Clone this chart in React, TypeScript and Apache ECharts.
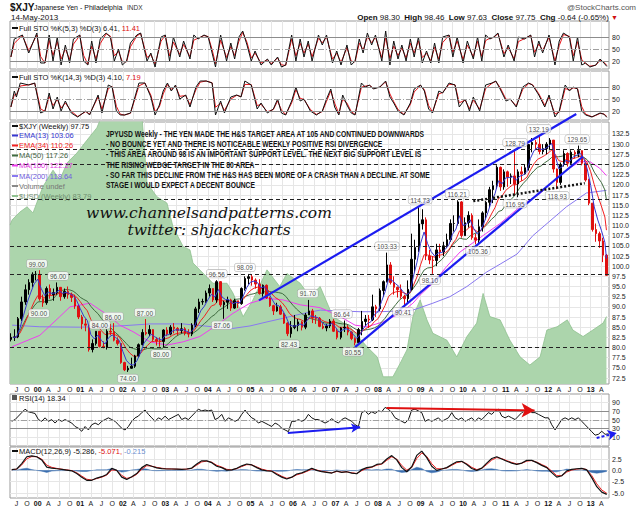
import React, { useEffect, useRef } from "react";
import * as echarts from "echarts";

// ---------------- DATA ----------------
const X_MIN = 1999.349;
const X_MAX = 2013.43;

// monthly price bars, May 1999 .. May 2013
const priceStart = 1999 + 4 / 12;
const lastDate = 2013.37;
const firstOpen = 82.0;
const priceClose = [
  82.5, 82.6, 87.1, 91.2, 94.2, 96.0, 98.0, 98.0,
  92.0, 91.0, 94.5, 93.0, 93.5, 94.8, 92.5, 93.8, 93.0, 92.3, 90.2, 87.5,
  85.8, 85.5, 79.5, 81.0, 84.0, 80.3, 80.0, 84.0, 83.8, 81.8, 81.0, 76.3,
  74.5, 74.9, 75.4, 77.9, 80.7, 83.7, 83.4, 84.4, 82.0, 81.6, 81.5, 84.3,
  83.3, 85.0, 84.7, 84.2, 84.6, 83.5, 83.3, 85.5, 89.5, 91.2, 91.3, 93.4,
  94.5, 91.7, 96.2, 90.5, 91.1, 91.7, 89.7, 91.5, 90.8, 94.5, 97.0, 97.4,
  96.6, 95.6, 93.3, 95.3, 92.2, 90.3, 89.0, 90.0, 88.2, 86.0, 83.4, 84.9,
  85.4, 86.3, 85.0, 88.0, 89.0, 87.3, 87.2, 85.2, 84.8, 85.3, 86.5, 84.0,
  82.5, 84.8, 85.0, 83.8, 82.2, 81.2, 84.4, 86.4, 87.0, 86.8, 90.0, 89.5,
  94.0, 96.2, 100.3, 96.0, 94.8, 94.2, 92.6, 92.0, 94.3, 101.7, 104.6, 110.4,
  111.4, 102.5, 101.5, 101.4, 104.0, 103.5, 105.0, 106.5, 110.5, 110.5, 115.8, 107.5,
  110.7, 112.5, 107.0, 106.4, 109.7, 113.1, 115.7, 118.8, 119.8, 124.3, 119.5, 123.2,
  121.9, 122.2, 120.2, 123.2, 122.7, 124.2, 129.9, 130.4, 130.0, 128.2, 128.9, 130.0,
  131.0, 123.9, 120.6, 125.0, 127.7, 125.3, 128.0, 127.6, 128.4, 125.3, 121.2, 115.5,
  109.0, 108.0, 106.2, 102.7, 97.75,
];
const priceHigh = [
  83.5, 84.5, 87.5, 92.5, 95.5, 96.8, 98.5, 98.8,
  99.0, 93.0, 95.0, 95.5, 94.5, 96.0, 94.5, 94.5, 95.0, 93.5, 93.0, 90.5,
  88.0, 87.0, 85.5, 82.0, 84.0, 84.0, 81.5, 84.5, 85.8, 86.0, 82.5, 81.0,
  76.5, 75.5, 77.5, 78.2, 81.0, 84.5, 87.0, 85.5, 84.5, 82.5, 82.5, 84.5,
  85.0, 85.5, 86.0, 85.0, 86.0, 85.0, 84.5, 86.0, 90.0, 92.0, 92.0, 94.0,
  95.5, 94.5, 96.56, 96.3, 91.5, 92.5, 92.0, 92.0, 91.5, 94.8, 97.5, 98.09,
  98.0, 97.0, 96.8, 95.5, 95.5, 92.5, 90.5, 91.0, 90.5, 88.5, 86.2, 86.5,
  88.0, 87.0, 86.5, 88.5, 91.7, 89.5, 88.0, 87.5, 86.0, 85.8, 87.0, 87.0,
  84.5, 85.0, 86.64, 85.5, 84.0, 82.5, 84.8, 89.0, 88.0, 88.0, 93.0, 90.5,
  94.5, 96.5, 103.33, 101.0, 97.5, 95.0, 95.5, 93.0, 96.5, 108.0, 106.5, 114.73,
  114.0, 112.0, 104.0, 102.5, 105.5, 105.5, 106.0, 108.0, 111.5, 112.5, 116.21, 116.0,
  112.0, 113.5, 113.0, 108.0, 111.5, 113.5, 116.0, 119.5, 121.0, 124.8, 124.5, 123.8,
  123.5, 122.8, 128.79, 123.8, 124.5, 125.0, 130.0, 131.5, 131.0, 132.19, 130.0, 130.5,
  131.5, 131.0, 124.0, 125.5, 128.5, 128.0, 128.5, 128.5, 129.65, 128.5, 125.5, 121.5,
  115.5, 110.5, 108.5, 107.0, 103.0,
];
const priceLow = [
  81.5, 81.6, 82.3, 86.5, 90.5, 93.0, 94.8, 96.5,
  91.5, 90.0, 90.5, 92.0, 91.5, 93.0, 91.5, 92.0, 92.0, 91.2, 89.5, 87.0,
  84.5, 84.0, 79.0, 78.8, 80.5, 80.0, 79.8, 79.5, 83.0, 81.5, 80.5, 76.0,
  74.2, 74.0, 74.8, 75.0, 77.5, 80.5, 83.0, 82.8, 81.5, 80.5, 80.2, 80.0,
  82.8, 83.0, 83.5, 83.0, 83.5, 83.0, 82.5, 82.8, 85.0, 88.5, 90.5, 91.0,
  92.5, 91.2, 91.0, 90.0, 87.06, 89.5, 89.0, 89.5, 89.7, 90.5, 94.0, 95.5,
  95.2, 94.5, 93.0, 92.5, 92.0, 90.0, 88.0, 88.8, 88.0, 85.8, 82.8, 82.43,
  84.5, 84.0, 84.2, 84.5, 88.0, 86.0, 85.8, 85.0, 84.5, 84.0, 84.8, 83.8,
  82.0, 82.0, 83.8, 83.0, 81.8, 80.55, 81.0, 83.0, 85.3, 84.8, 86.5, 87.5,
  89.0, 92.5, 96.0, 95.5, 93.0, 92.3, 92.0, 90.41, 91.0, 94.0, 98.5, 103.5,
  109.0, 101.5, 100.5, 98.1, 100.0, 102.0, 102.5, 104.5, 106.0, 108.5, 110.0, 107.0,
  107.5, 109.5, 106.5, 105.36, 105.5, 108.5, 111.5, 114.5, 115.5, 119.0, 118.5, 118.8,
  119.5, 120.2, 117.5, 116.95, 121.0, 122.5, 123.5, 128.0, 128.5, 127.5, 127.5, 127.5,
  128.5, 123.0, 118.93, 120.0, 124.5, 124.5, 125.0, 126.5, 126.8, 124.8, 120.8, 115.0,
  108.5, 106.0, 104.5, 101.0, 97.63,
];

// $USD (weekly) underlay, read in main-axis units
const usdDates = [1999.35, 1999.4, 1999.58, 1999.75, 1999.89, 2000.12, 2000.36, 2000.52, 2000.69, 2000.92, 2001.16, 2001.39, 2001.55, 2001.75, 2001.95, 2002.2, 2002.45, 2002.57, 2002.8, 2003.04, 2003.18, 2003.42, 2003.58, 2003.65, 2003.81, 2004.12, 2004.45, 2004.59, 2004.83, 2005.06, 2005.39, 2005.69, 2005.86, 2006.17, 2006.4, 2006.64, 2006.94, 2007.34, 2007.74, 2007.98, 2008.12, 2008.35, 2008.52, 2008.68, 2008.82, 2008.99, 2009.15, 2009.29, 2009.62, 2009.85, 2010.09, 2010.32, 2010.47, 2010.63, 2010.87, 2011.1, 2011.34, 2011.57, 2011.81, 2011.97, 2012.21, 2012.45, 2012.58, 2012.82, 2013.05, 2013.29, 2013.37];
const usdValues = [110.1, 111.4, 113.3, 114.6, 113.1, 119.5, 123.6, 121.2, 125.4, 127.8, 131.0, 134.0, 138, 140, 139, 141, 137, 120.5, 117.1, 115.5, 109.7, 104.8, 104.0, 100.8, 99.1, 95.8, 95.8, 93.4, 87.6, 91.7, 99.1, 95.0, 98.2, 95.8, 92.5, 95.0, 87.6, 85.1, 80.2, 77.7, 72.8, 72.8, 76.1, 79.4, 87.6, 91.7, 86.8, 83.5, 81.8, 77.7, 82.7, 86.0, 93.3, 87.6, 86.8, 81.8, 77.7, 75.7, 77.7, 84.3, 85.1, 86.8, 84.3, 82.7, 84.3, 86.0, 87.6];

// long moving averages
const ma100Dates = [1999.4, 2000.05, 2000.52, 2000.76, 2001.23, 2001.7, 2001.93, 2002.24, 2002.64, 2003.04, 2003.42, 2003.81, 2004.21, 2004.59, 2004.99, 2005.39, 2005.77, 2006.17, 2006.64, 2007.11, 2007.46, 2007.74, 2008.12, 2008.52, 2008.82, 2008.99, 2009.29, 2009.62, 2009.93, 2010.4, 2010.87, 2011.34, 2011.81, 2012.11, 2012.43, 2012.74, 2012.98, 2013.21, 2013.37];
const ma100Values = [80.2, 83.0, 87.6, 90.0, 90.9, 87.6, 85.5, 83.9, 81.4, 80.6, 81.4, 82.7, 85.5, 88.4, 90.9, 92.1, 91.7, 90.5, 89.8, 87.6, 85.5, 85.1, 86.3, 88.4, 90.9, 92.9, 95.8, 100.0, 103.5, 107.0, 110.5, 114.6, 117.9, 120.8, 123.6, 125.7, 125.7, 124.1, 122.27];
const ma200Dates = [1999.4, 2000.05, 2000.99, 2001.93, 2002.64, 2003.42, 2004.21, 2004.59, 2004.99, 2005.39, 2005.77, 2006.17, 2006.64, 2007.11, 2007.58, 2008.05, 2008.52, 2008.82, 2009.29, 2009.69, 2010.09, 2010.56, 2010.87, 2011.27, 2011.64, 2012.43, 2012.9, 2013.37];
const ma200Values = [85.5, 85.1, 85.0, 85.3, 85.8, 85.8, 85.0, 84.7, 85.3, 86.3, 87.2, 88.2, 89.2, 89.0, 88.8, 88.8, 89.0, 89.2, 90.9, 92.5, 95.0, 98.6, 100.5, 103.0, 107.5, 114.6, 118.0, 118.64];

const supportLevels = [128.75, 125, 116.5, 105, 98, 80];

const highLabelDates = [1999.98, 2000.48, 2001.46, 2001.77, 2002.52, 2004.21, 2004.87, 2006.35, 2007.15, 2008.21, 2008.99, 2009.86, 2011.22, 2011.78, 2012.68];
const highLabelValues = [99.0, 96.0, 84.0, 86.0, 87.0, 96.56, 98.09, 91.7, 86.64, 103.33, 114.73, 116.21, 128.79, 132.19, 129.65];
const lowLabelDates = [2000.03, 2002.12, 2002.9, 2004.33, 2005.91, 2007.41, 2008.59, 2009.22, 2010.35, 2011.22, 2012.21];
const lowLabelValues = [90.0, 74.0, 80.0, 87.06, 82.43, 80.55, 90.41, 98.1, 105.36, 116.95, 118.93];

const upperChannelDates = [2005.2, 2012.66];
const upperChannelValues = [91.6, 137.4];
const lowerChannelDates = [2007.46, 2012.81];
const lowerChannelValues = [80.1, 126.9];
const necklineDates = [2010.24, 2012.86];
const necklineValues = [116.0, 120.4];

// Full STO %K(5,3)
const sto1Dates = [1999.37, 1999.45, 1999.64, 1999.79, 1999.98, 2000.07, 2000.17, 2000.27, 2000.36, 2000.46, 2000.55, 2000.65, 2000.75, 2000.84, 2000.99, 2001.08, 2001.18, 2001.27, 2001.37, 2001.47, 2001.61, 2001.71, 2001.8, 2001.9, 2001.99, 2002.09, 2002.18, 2002.33, 2002.42, 2002.57, 2002.66, 2002.76, 2002.9, 2003.0, 2003.1, 2003.19, 2003.34, 2003.43, 2003.58, 2003.67, 2003.77, 2003.91, 2004.01, 2004.1, 2004.18, 2004.3, 2004.44, 2004.54, 2004.63, 2004.73, 2004.82, 2004.92, 2005.02, 2005.11, 2005.25, 2005.4, 2005.49, 2005.64, 2005.73, 2005.83, 2005.97, 2006.07, 2006.17, 2006.26, 2006.36, 2006.45, 2006.6, 2006.69, 2006.79, 2006.93, 2007.03, 2007.13, 2007.27, 2007.37, 2007.46, 2007.56, 2007.65, 2007.75, 2007.85, 2007.94, 2008.09, 2008.18, 2008.28, 2008.37, 2008.47, 2008.56, 2008.66, 2008.76, 2008.85, 2008.95, 2009.04, 2009.14, 2009.24, 2009.33, 2009.43, 2009.52, 2009.67, 2009.76, 2009.86, 2010.0, 2010.1, 2010.24, 2010.34, 2010.44, 2010.53, 2010.63, 2010.72, 2010.82, 2010.96, 2011.06, 2011.2, 2011.3, 2011.44, 2011.59, 2011.68, 2011.78, 2011.87, 2012.02, 2012.16, 2012.26, 2012.36, 2012.5, 2012.59, 2012.69, 2012.79, 2012.88, 2012.98, 2013.12, 2013.22, 2013.31, 2013.38];
const sto1K = [30, 75, 85, 40, 90, 15, 15, 85, 20, 80, 10, 60, 15, 75, 85, 20, 10, 70, 15, 75, 90, 80, 20, 50, 10, 20, 65, 85, 90, 20, 40, 5, 80, 85, 20, 80, 30, 70, 25, 85, 75, 85, 80, 40, 5, 85, 20, 65, 25, 80, 95, 60, 20, 45, 10, 25, 10, 30, 5, 10, 85, 20, 75, 30, 70, 20, 85, 60, 85, 15, 45, 10, 60, 10, 20, 75, 40, 90, 60, 85, 20, 95, 10, 70, 25, 60, 20, 75, 30, 80, 15, 45, 15, 65, 15, 80, 85, 30, 80, 15, 70, 25, 80, 20, 85, 75, 80, 90, 30, 60, 20, 80, 75, 85, 30, 70, 40, 85, 10, 70, 90, 80, 20, 80, 10, 15, 5, 10, 25, 15, 6.4];

// Full STO %K(14,3)
const sto2Dates = [1999.37, 1999.45, 1999.5, 1999.59, 1999.79, 1999.93, 2000.07, 2000.17, 2000.27, 2000.36, 2000.46, 2000.55, 2000.65, 2000.79, 2000.94, 2001.13, 2001.22, 2001.42, 2001.51, 2001.66, 2001.75, 2001.85, 2001.94, 2002.04, 2002.18, 2002.38, 2002.52, 2002.66, 2002.76, 2002.86, 2002.95, 2003.05, 2003.14, 2003.24, 2003.34, 2003.48, 2003.58, 2003.72, 2003.82, 2003.96, 2004.1, 2004.18, 2004.3, 2004.39, 2004.54, 2004.68, 2004.78, 2004.87, 2005.02, 2005.16, 2005.25, 2005.4, 2005.54, 2005.64, 2005.73, 2005.83, 2005.97, 2006.07, 2006.17, 2006.26, 2006.41, 2006.55, 2006.69, 2006.79, 2006.89, 2006.98, 2007.08, 2007.17, 2007.27, 2007.37, 2007.46, 2007.61, 2007.7, 2007.8, 2007.89, 2008.04, 2008.18, 2008.28, 2008.37, 2008.47, 2008.61, 2008.76, 2008.85, 2009.0, 2009.09, 2009.19, 2009.28, 2009.43, 2009.52, 2009.67, 2009.81, 2009.91, 2010.05, 2010.15, 2010.24, 2010.39, 2010.53, 2010.68, 2010.77, 2010.87, 2011.01, 2011.11, 2011.25, 2011.4, 2011.54, 2011.63, 2011.78, 2011.92, 2012.02, 2012.16, 2012.26, 2012.4, 2012.5, 2012.59, 2012.69, 2012.79, 2012.88, 2013.03, 2013.12, 2013.22, 2013.31, 2013.38];
const sto2K = [30, 70, 55, 90, 85, 90, 15, 20, 65, 25, 55, 20, 45, 15, 5, 20, 10, 60, 15, 85, 80, 20, 10, 10, 15, 90, 90, 55, 10, 35, 70, 90, 70, 85, 50, 60, 30, 80, 95, 95, 90, 10, 45, 15, 55, 60, 55, 95, 85, 25, 40, 15, 25, 50, 15, 10, 45, 80, 45, 50, 20, 10, 20, 50, 75, 30, 10, 60, 35, 15, 10, 90, 80, 85, 75, 80, 95, 55, 40, 20, 10, 40, 75, 85, 70, 25, 15, 70, 65, 90, 85, 30, 50, 20, 55, 20, 85, 90, 95, 75, 45, 50, 30, 80, 90, 85, 60, 30, 60, 5, 20, 85, 70, 80, 75, 20, 10, 5, 10, 15, 12, 4.1];

// RSI(14), evenly sampled
const rsiStart = 1999.39;
const rsiStep = 0.07836;
const rsiValues = [
  47, 51, 59, 67, 75, 69, 67, 65, 51, 47, 55, 47, 51, 43, 51, 47, 51, 47, 43, 35,
  31, 24, 35, 27, 39, 43, 39, 47, 51, 55, 51, 47, 39, 31, 27, 35, 47, 55, 59, 67,
  73, 63, 55, 47, 55, 51, 59, 51, 55, 59, 63, 51, 55, 51, 59, 67, 75, 71, 73, 71,
  73, 51, 55, 63, 47, 55, 51, 47, 51, 63, 73, 63, 55, 51, 43, 47, 43, 39, 35, 43,
  39, 31, 27, 23, 47, 47, 51, 47, 51, 63, 55, 51, 51,
  47, 43, 47, 53, 47, 43, 51, 55, 51, 47, 39, 35, 67, 71, 63, 69, 65, 71, 69, 79,
  75, 67, 55, 51, 47, 43, 51, 73, 75, 71, 67, 47, 51, 47, 51, 55, 47, 51, 55, 67,
  55, 51, 55, 47, 51, 55, 47, 55, 51, 59, 67, 63, 71, 75, 59, 55, 59, 55, 51, 59,
  67, 71, 75, 67, 67, 63, 59, 55, 55, 39, 27, 39, 51, 55, 51, 55, 51, 55, 47, 39,
  31, 23, 15, 17, 24, 17, 18,
];
const rsiBlueArrowDates = [2005.88, 2007.58];
const rsiBlueArrowValues = [20, 33];
const rsiRedArrowDates = [2008.2, 2011.68];
const rsiRedArrowValues = [77.5, 72];
const rsiDashArrowDates = [2013.14, 2013.61];
const rsiDashArrowValues = [8.4, 20];

// MACD(12,26,9), evenly sampled
const macdStart = 1999.39;
const macdStep = 0.11754;
const macdValues = [
  0.15, 0.3, 1.5, 3.0, 3.2, 3.0, 2.3, 0.7, 0.5, 0.35, 0.2, 0.05, -0.1, -0.7, -1.5, -2.2, -2.2, -1.7, -1.4, -0.9,
  0.45, 0.0, -1.5, -2.0, -1.4, -0.7, 0.6, 1.3, 0.9, 0.55, 0.4, 0.3, 0.3, 0.25, 0.2, 0.3, 0.5, 1.4, 2.1, 2.1,
  1.7, 0.9, 0.6, 0.05, 0.1, 0.45, 1.0, 1.4, 1.2, 0.6, 0.1, -0.1, -0.2, -0.9, -1.5, -1.9, -1.5, -0.8, -0.55, -0.1,
  0.45, 0.0,
  -0.3, -0.45, -0.6, -0.15, -0.45, -0.3, -0.6, -0.75, 0.15, 0.6, 0.75, 1.3, 1.45, 2.5, 3.25, 2.3, 0.6, -0.3, 0.8, 3.3,
  4.25, 2.8, 0.9, 0.0, 0.3, 0.6, 1.3, 1.9, 2.0, 1.3, 0.4, 0.0, 0.5, 1.6, 2.6, 3.0, 2.5, 2.0, 1.6, 1.3,
  1.6, 2.2, 2.2, 1.7, 1.1, 0.6, -0.5, -1.5, -1.2, -0.1, 0.2, 0.35, 0.45, 0.1, -1.6, -3.6, -4.8, -5.29,
];

const stoTicks = [20, 50, 80];
const rsiTicks = [10, 30, 50, 70, 90];
const macdTicks = [-5, -2.5, 0, 2.5];

// ---------------- HELPERS ----------------
const FONT = "'Liberation Sans', Arial, sans-serif";
const quarterTicks: number[] = [];
for (let y = 1999; y <= 2013; y++) for (let q = 0; q < 4; q++) {
  const v = y + q / 4;
  if (v > X_MIN && v < X_MAX) quarterTicks.push(v);
}
const mainTicks: number[] = [];
for (let v = 72.5; v <= 132.5 + 1e-6; v += 2.5) mainTicks.push(v);

const quarterLabel = (v: number) => {
  const yr = Math.floor(v + 1e-6);
  const q = Math.round((v - yr) * 4);
  if (q === 0) return "{y|" + String(yr % 100).padStart(2, "0") + "}";
  return ["", "A", "J", "O"][q];
};

function ema(vals: number[], alpha: number) {
  let e = vals[0];
  return vals.map((v, i) => (e = i === 0 ? v : e + alpha * (v - e)));
}
function sma(vals: number[], n: number) {
  return vals.map((_, i) => {
    const w = vals.slice(Math.max(0, i - n + 1), i + 1);
    return w.reduce((a, b) => a + b, 0) / w.length;
  });
}
function interpAt(xs: number[], ys: number[], t: number) {
  if (t <= xs[0]) return ys[0];
  for (let i = 1; i < xs.length; i++) {
    if (t <= xs[i]) {
      const f = (t - xs[i - 1]) / (xs[i] - xs[i - 1]);
      return ys[i - 1] + f * (ys[i] - ys[i - 1]);
    }
  }
  return ys[ys.length - 1];
}
const stoD = (xs: number[], ys: number[]) =>
  xs.map((t) => (interpAt(xs, ys, t) + interpAt(xs, ys, t - 1 / 52) + interpAt(xs, ys, t - 2 / 52)) / 3);
const zip = (xs: number[], ys: number[]) => xs.map((x, i) => [x, ys[i]]);

function buildOption() {
  const candles = priceClose.map((c, i) => {
    const open = i === 0 ? firstOpen : priceClose[i - 1];
    return [priceStart + (i + 0.5) / 12, open, c, priceLow[i], priceHigh[i]];
  });
  const closeDates = priceClose.map((_, i) => Math.min(priceStart + (i + 1) / 12, lastDate));
  const a13 = 1 - Math.pow(1 - 2 / 14, 52 / 12);
  const a34 = 1 - Math.pow(1 - 2 / 35, 52 / 12);
  const ema13 = ema(priceClose, a13);
  const ema34 = ema(priceClose, a34);
  const ma50 = sma(priceClose, 12);

  const rsiDates = rsiValues.map((_, i) => rsiStart + i * rsiStep);
  const rsiLow = rsiValues.map((v) => Math.min(v, 30));
  const rsiFill = rsiLow.map((v) => 30 - v);

  const macdDates = macdValues.map((_, i) => macdStart + i * macdStep);
  const stepWeeks = macdStep * 52.18;
  const aSig = 1 - Math.pow(1 - 2 / 10, stepWeeks);
  const signal = ema(macdValues, aSig);
  const hist = macdValues.map((v, i) => v - signal[i]);

  const grids = [
    { left: 10, right: 31, top: 21, height: 48 },
    { left: 10, right: 31, top: 71, height: 49 },
    { left: 10, right: 31, top: 122, height: 262 },
    { left: 10, right: 31, top: 394, height: 52 },
    { left: 10, right: 31, top: 447, height: 51 },
  ].map((g) => ({ ...g, show: true, borderColor: "#9a9a9a", borderWidth: 1, backgroundColor: "transparent" }));

  const xAxes = [0, 1, 2, 3, 4].map((gi) => ({
    type: "value",
    gridIndex: gi,
    min: X_MIN,
    max: X_MAX,
    axisLine: { show: false },
    axisTick: { show: false, customValues: quarterTicks },
    axisLabel: {
      show: gi === 2 || gi === 4,
      customValues: quarterTicks,
      formatter: quarterLabel,
      fontSize: 7,
      color: "#222",
      margin: 2,
      fontFamily: FONT,
      rich: { y: { fontWeight: "bold", fontSize: 7, fontFamily: FONT, color: "#111" } },
    },
    splitLine: { show: true, lineStyle: { color: "#e6e6e6", width: 1 } },
  }));

  const yAxis = (gi: number, min: number, max: number, ticks: number[], fmt: (v: number) => string, split: boolean) => ({
    type: "value",
    gridIndex: gi,
    min,
    max,
    position: "right",
    axisLine: { show: false },
    axisTick: { show: false, customValues: ticks },
    axisLabel: { customValues: ticks, formatter: fmt, fontSize: 7, color: "#222", margin: 3, fontFamily: FONT },
    splitLine: { show: split, lineStyle: { color: "#e6e6e6", width: 1 } },
  });
  const yAxes = [
    yAxis(0, 0, 120, stoTicks, (v) => String(v), false),
    yAxis(1, -2.5, 120, stoTicks, (v) => String(v), false),
    yAxis(2, 71.03, 135.45, mainTicks, (v) => v.toFixed(1), true),
    yAxis(3, -10, 110, rsiTicks, (v) => String(v), true),
    yAxis(4, -6.1, 5.15, macdTicks, (v) => v.toFixed(1), true),
  ];

  const hLines = (gi: number, levels: number[], color: string, type: any, width = 1) => ({
    type: "line",
    xAxisIndex: gi,
    yAxisIndex: gi,
    data: [],
    silent: true,
    z: 2,
    markLine: {
      silent: true,
      symbol: ["none", "none"],
      label: { show: false },
      lineStyle: { color, type, width },
      data: levels.map((v) => ({ yAxis: v })),
    },
  });
  const plain = (gi: number, data: any[], color: string, width: number, z = 3, extra: any = {}) => ({
    type: "line",
    xAxisIndex: gi,
    yAxisIndex: gi,
    data,
    symbol: "none",
    silent: true,
    z,
    lineStyle: { color, width },
    ...extra,
  });
  const labelSeries = (dates: number[], vals: number[], pos: string) => ({
    type: "scatter",
    xAxisIndex: 2,
    yAxisIndex: 2,
    z: 9,
    silent: true,
    symbolSize: 1,
    itemStyle: { color: "rgba(0,0,0,0)" },
    data: zip(dates, vals),
    label: {
      show: true,
      position: pos,
      distance: 2,
      formatter: (p: any) => p.value[1].toFixed(2),
      fontSize: 6.5,
      fontFamily: FONT,
      color: "#222",
      backgroundColor: "#fff",
      borderColor: "#999",
      borderWidth: 0.5,
      borderRadius: 2,
      padding: [1, 2, 0, 2],
    },
  });
  const arrow = (dates: number[], vals: number[], color: string, width: number, size: number[]) => ({
    type: "line",
    xAxisIndex: 3,
    yAxisIndex: 3,
    data: [],
    silent: true,
    z: 6,
    markLine: {
      silent: true,
      symbol: ["none", "arrow"],
      symbolSize: size,
      label: { show: false },
      lineStyle: { color, width, type: "solid" },
      data: [[{ coord: [dates[0], vals[0]] }, { coord: [dates[1], vals[1]] }]],
    },
  });

  const series: any[] = [
    // STO 1
    hLines(0, [80, 20], "#8c8c8c", "solid"),
    hLines(0, [50], "#a0a0a0", [6, 2, 1, 2]),
    plain(0, zip(sto1Dates, stoD(sto1Dates, sto1K)), "#e8141a", 1, 3),
    plain(0, zip(sto1Dates, sto1K), "#111", 1, 4),
    // STO 2
    hLines(1, [80, 20], "#8c8c8c", "solid"),
    hLines(1, [50], "#a0a0a0", [6, 2, 1, 2]),
    plain(1, zip(sto2Dates, stoD(sto2Dates, sto2K)), "#e8141a", 1, 3),
    plain(1, zip(sto2Dates, sto2K), "#111", 1, 4),
    // main
    plain(2, zip(usdDates, usdValues), "#8fc08f", 0.8, 1, {
      areaStyle: { color: "#acd5ac", opacity: 1, origin: "start" },
    }),
    hLines(2, supportLevels, "#222", [4, 3], 1),
    plain(2, zip(ma200Dates, ma200Values), "#8878f0", 1, 3),
    plain(2, zip(ma100Dates, ma100Values), "#f03cf0", 1, 3),
    plain(2, zip(closeDates, ma50), "#3f6b3f", 1, 3),
    plain(2, zip(closeDates, ema34), "#f22020", 1, 3),
    {
      type: "candlestick",
      xAxisIndex: 2,
      yAxisIndex: 2,
      data: candles,
      barWidth: 2,
      silent: true,
      z: 4,
      itemStyle: { color: "#000", color0: "#e01010", borderColor: "#000", borderColor0: "#e01010", borderWidth: 1 },
    },
    plain(2, zip(closeDates, ema13), "#3535d0", 1, 5),
    plain(2, zip(upperChannelDates, upperChannelValues), "#1c1cf0", 2.2, 6, { clip: false }),
    plain(2, zip(lowerChannelDates, lowerChannelValues), "#1c1cf0", 2.2, 6),
    plain(2, zip(necklineDates, necklineValues), "#111", 2.5, 6, {
      lineStyle: { color: "#111", width: 2.5, type: [2, 2] },
    }),
    labelSeries(highLabelDates, highLabelValues, "top"),
    labelSeries(lowLabelDates, lowLabelValues, "bottom"),
    // RSI
    hLines(3, [70, 30], "#8c8c8c", "solid"),
    hLines(3, [50], "#a0a0a0", [6, 2, 1, 2]),
    plain(3, zip(rsiDates, rsiLow), "rgba(0,0,0,0)", 0, 2, { stack: "rsiFill" }),
    plain(3, zip(rsiDates, rsiFill), "rgba(0,0,0,0)", 0, 2, {
      stack: "rsiFill",
      areaStyle: { color: "#6e6e6e", opacity: 1 },
    }),
    plain(3, zip(rsiDates, rsiValues), "#111", 1, 4),
    arrow(rsiBlueArrowDates, rsiBlueArrowValues, "#1c1cf0", 2, [7, 9]),
    arrow(rsiRedArrowDates, rsiRedArrowValues, "#e01010", 2, [11, 13]),
    {
      type: "line",
      xAxisIndex: 3,
      yAxisIndex: 3,
      clip: false,
      silent: true,
      z: 6,
      symbol: "arrow",
      showSymbol: true,
      lineStyle: { color: "#1c1cf0", width: 2, type: [3, 2] },
      itemStyle: { color: "#1c1cf0" },
      data: [
        { value: [rsiDashArrowDates[0], rsiDashArrowValues[0]], symbol: "none" },
        { value: [rsiDashArrowDates[1], rsiDashArrowValues[1]], symbol: "arrow", symbolSize: [8, 9], symbolRotate: -76 },
      ],
    },
    // MACD
    plain(4, zip(macdDates, hist), "#3b6fb0", 0.5, 2, { areaStyle: { color: "#3b6fb0", opacity: 1 } }),
    plain(4, zip(macdDates, signal), "#f02020", 1, 3),
    plain(4, zip(macdDates, macdValues), "#111", 1.2, 4),
  ];

  const txt = (x: number, y: number, text: string, font: string, fill = "#111", align = "left", extra: any = {}) => ({
    type: "text",
    x,
    y,
    silent: true,
    z: 100,
    style: { text, font, fill, textAlign: align, textVerticalAlign: "middle", ...extra },
  });
  const icon = (x: number, y: number, color: string) => ({
    type: "rect",
    silent: true,
    z: 100,
    shape: { x, y: y - 1, width: 6, height: 2 },
    style: { fill: color },
  });
  const f8 = `8px ${FONT}`;
  const f7 = `7.5px ${FONT}`;
  const annFont = `bold 8.2px ${FONT}`;

  const graphic: any[] = [
    txt(10, 7, "$XJY", `bold 10px ${FONT}`),
    txt(34, 7.5, "Japanese Yen - Philadelphia", `7px ${FONT}`),
    txt(127, 7.5, "INDX", `6.5px ${FONT}`, "#333"),
    txt(11, 17.5, "14-May-2013", f8),
    txt(636, 7, "@StockCharts.com", f8, "#555", "right"),
    {
      type: "text",
      x: 618,
      y: 17.5,
      silent: true,
      z: 100,
      style: {
        text: "{b|Open} 98.30  {b|High} 98.46  {b|Low} 97.63  {b|Close} 97.75  {b|Chg} -0.64 (-0.65%) {r|▼}",
        font: f8,
        fill: "#111",
        textAlign: "right",
        textVerticalAlign: "middle",
        rich: {
          b: { font: `bold 8px ${FONT}`, fill: "#111" },
          r: { font: `7px ${FONT}`, fill: "#d01010" },
        },
      },
    },
    icon(12, 28, "#111"),
    {
      type: "text", x: 19, y: 28, silent: true, z: 100,
      style: {
        text: "Full STO %K(5,3) %D(3) 6.41, {r|11.41}", font: f7, fill: "#111", textVerticalAlign: "middle",
        rich: { r: { font: f7, fill: "#e01010" } },
      },
    },
    icon(12, 77, "#111"),
    {
      type: "text", x: 19, y: 77, silent: true, z: 100,
      style: {
        text: "Full STO %K(14,3) %D(3) 4.10, {r|7.19}", font: f7, fill: "#111", textVerticalAlign: "middle",
        rich: { r: { font: f7, fill: "#e01010" } },
      },
    },
    // main legend
    icon(12, 126, "#111"),
    txt(19, 126, "$XJY (Weekly) 97.75", f7, "#111"),
    icon(12, 135.5, "#3535d0"),
    txt(19, 135.5, "EMA(13) 103.06", f7, "#3535d0"),
    icon(12, 145.5, "#f22020"),
    txt(19, 145.5, "EMA(34) 110.26", f7, "#f22020"),
    icon(12, 155.5, "#3f6b3f"),
    txt(19, 155.5, "MA(50) 117.26", f7, "#3f5f3f"),
    icon(12, 165.5, "#f03cf0"),
    txt(19, 165.5, "MA(100) 122.27", f7, "#e030e0"),
    icon(12, 176, "#8878f0"),
    txt(19, 176, "MA(200) 118.64", f7, "#7060e0"),
    icon(12, 186, "#888"),
    txt(19, 186, "Volume undef", f7, "#777"),
    icon(12, 196, "#8fc08f"),
    txt(19, 196, "$USD (Weekly) 83.79", f7, "#6f8f6f"),
    // annotation
    {
      type: "text",
      x: 106,
      y: 129,
      scaleX: 0.82,
      silent: true,
      z: 100,
      style: {
        text: [
          "JPYUSD Weekly - THE YEN MADE THE H&S TARGET AREA AT 105 AND CONTINUED DOWNWARDS",
          "- NO BOUNCE YET AND THERE IS NOTICEABLE WEEKLY POSITIVE RSI DIVERGENCE",
          "- THIS AREA AROUND 98 IS AN IMPORTANT SUPPORT LEVEL. THE NEXT BIG SUPPORT LEVEL IS",
          "THE RISING WEDGE TARGET IN THE 80 AREA",
          "- SO FAR THIS DECLINE FROM THE H&S HAS BEEN MORE OF A CRASH THAN A DECLINE. AT SOME",
          "STAGE I WOULD EXPECT A DECENT BOUNCE",
        ].join("\n"),
        font: annFont,
        fill: "#111",
        lineHeight: 10.3,
        textVerticalAlign: "top",
      },
    },
    txt(209, 213, "www.channelsandpatterns.com", `italic 15.5px 'DejaVu Serif', serif`, "#111", "center"),
    txt(209, 230, "twitter: shjackcharts", `italic 15.5px 'DejaVu Serif', serif`, "#111", "center"),
    // RSI legend
    { type: "rect", silent: true, z: 100, shape: { x: 12, y: 395, width: 5, height: 5 }, style: { fill: "#555" } },
    txt(19, 398, "RSI(14) 18.34", f7, "#111"),
    icon(12, 451, "#111"),
    {
      type: "text", x: 19, y: 451, silent: true, z: 100,
      style: {
        text: "MACD(12,26,9) -5.286, {r|-5.071,} {b|-0.215}", font: f7, fill: "#111", textVerticalAlign: "middle",
        rich: { r: { font: f7, fill: "#e01010" }, b: { font: f7, fill: "#6f8fd0" } },
      },
    },
  ];

  return {
    animation: false,
    backgroundColor: "#fff",
    textStyle: { fontFamily: FONT },
    grid: grids,
    xAxis: xAxes,
    yAxis: yAxes,
    series,
    graphic,
  };
}

export default function App() {
  const ref = useRef<HTMLDivElement>(null);
  useEffect(() => {
    if (!ref.current) return;
    const chart = echarts.init(ref.current, undefined, { renderer: "svg" });
    chart.setOption(buildOption() as any);
    return () => chart.dispose();
  }, []);
  return (
    <div
      ref={ref}
      style={{ position: "fixed", left: 0, top: 0, width: 640, height: 509, background: "#fff" }}
    />
  );
}
